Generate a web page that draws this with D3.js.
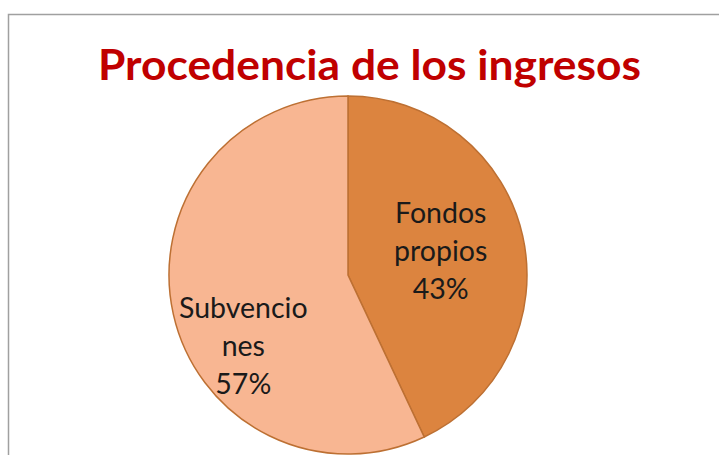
<!DOCTYPE html>
<html lang="es">
<head>
<meta charset="UTF-8">
<title>Procedencia de los ingresos</title>
<style>
  body { margin: 0; background: #fff; }
  svg { display: block; }
</style>
</head>
<body>
<script src="https://cdn.jsdelivr.net/npm/d3@7/dist/d3.min.js"></script>
<script>
// data
var categories = ['Fondos propios', 'Subvenciones'];
var values = [43, 57];
var labelLines = [['Fondos', 'propios'], ['Subvencio', 'nes']];
var colors = ['#dc843f', '#f8b692'];

var width = 719, height = 455;
var cx = 348, cy = 275, radius = 179;

var svg = d3.select('body').append('svg')
    .attr('width', width)
    .attr('height', height);

// chart frame (bottom and right run off the picture)
svg.append('rect')
    .attr('x', 8.5)
    .attr('y', 14.5)
    .attr('width', 740)
    .attr('height', 460)
    .attr('fill', '#fff')
    .attr('stroke', '#a0a0a0')
    .attr('stroke-width', 1.5);

svg.append('text')
    .attr('x', 369.5)
    .attr('y', 80)
    .attr('text-anchor', 'middle')
    .attr('textLength', 543)
    .attr('lengthAdjust', 'spacingAndGlyphs')
    .style('font-family', 'Lato, "Open Sans", sans-serif')
    .style('font-weight', 'bold')
    .style('font-size', '42px')
    .style('fill', '#c00000')
    .text('Procedencia de los ingresos');

var pie = d3.pie().sort(null).value(function(d) { return d; });
var arcs = pie(values);
var arc = d3.arc().innerRadius(0).outerRadius(radius);
var labelArc = d3.arc().innerRadius(95).outerRadius(95);

var g = svg.append('g').attr('transform', 'translate(' + cx + ',' + cy + ')');

g.selectAll('path')
    .data(arcs)
    .enter()
    .append('path')
    .attr('d', arc)
    .attr('fill', function(d, i) { return colors[i]; })
    .attr('stroke', '#bd7033')
    .attr('stroke-width', 1.5);

// label nudges relative to the slice centroid
var nudge = [[0, -2], [-12, 51]];
var totalValue = d3.sum(values);

var labels = g.selectAll('text.lbl')
    .data(arcs)
    .enter()
    .append('text')
    .attr('class', 'lbl')
    .attr('text-anchor', 'middle')
    .style('font-family', 'Lato, "Open Sans", sans-serif')
    .style('font-size', '28.5px')
    .style('fill', '#1a1a1a')
    .attr('transform', function(d, i) {
        var c = labelArc.centroid(d);
        return 'translate(' + (c[0] + nudge[i][0]) + ',' + (c[1] + nudge[i][1]) + ')';
    });

labels.each(function(d, i) {
    var t = d3.select(this);
    var lines = labelLines[i].concat([Math.round(d.value / totalValue * 100) + '%']);
    lines.forEach(function(line, k) {
        t.append('tspan')
            .attr('x', 0)
            .attr('y', (k - 1) * 38 + 9)
            .text(line);
    });
});
</script>
</body>
</html>
